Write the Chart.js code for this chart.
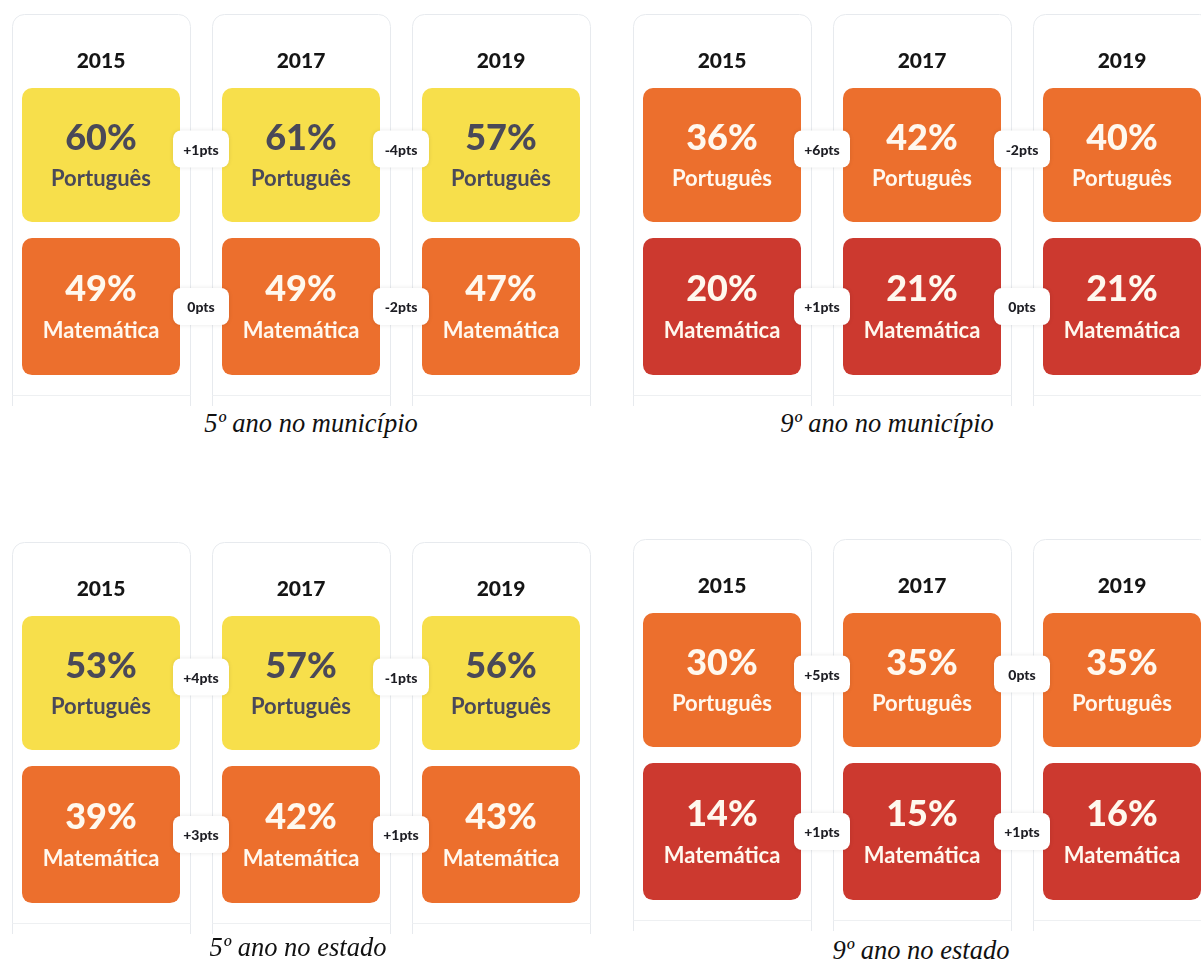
<!DOCTYPE html>
<html>
<head>
<meta charset="utf-8">
<script src="https://cdn.jsdelivr.net/npm/chart.js@4.4.1/dist/chart.umd.min.js"></script>
<style>
  body { margin: 0; background: #fff; width: 1201px; height: 960px; overflow: hidden; position: relative; }
  .panel { position: absolute; overflow: hidden; }
  .caption { position: absolute; font: italic 26.5px "Liberation Serif", "Times New Roman", serif; color: #111; white-space: nowrap; transform: translate(-50%, -50%); }
</style>
</head>
<body>
<div class="panel" style="left:0;top:0;width:602px;height:406px"><canvas id="c-5mun" width="602" height="406"></canvas></div>
<div class="panel" style="left:621px;top:0;width:580px;height:406px"><canvas id="c-9mun" width="602" height="406"></canvas></div>
<div class="panel" style="left:0;top:528px;width:602px;height:406px"><canvas id="c-5est" width="602" height="406"></canvas></div>
<div class="panel" style="left:621px;top:525px;width:580px;height:406px"><canvas id="c-9est" width="602" height="406"></canvas></div>

<div class="caption" style="left:311px;top:423px">5º ano no município</div>
<div class="caption" style="left:887px;top:423px">9º ano no município</div>
<div class="caption" style="left:298px;top:947px">5º ano no estado</div>
<div class="caption" style="left:921px;top:950px">9º ano no estado</div>

<script>
// --- data ---
const years = ['2015', '2017', '2019'];
const subjects = ['Português', 'Matemática'];

const port5Mun = [60, 61, 57];
const mat5Mun = [49, 49, 47];
const port9Mun = [36, 42, 40];
const mat9Mun = [20, 21, 21];
const port5Est = [53, 57, 56];
const mat5Est = [39, 42, 43];
const port9Est = [30, 35, 35];
const mat9Est = [14, 15, 16];

const FONT = 'Lato, "Open Sans", sans-serif';

// tile colour by level
function tileColor(v) {
  if (v >= 50) return '#F7DF4B';
  if (v >= 25) return '#EC6F2D';
  return '#CC392F';
}
function inkColor(v) {
  return v >= 50 ? '#4A4958' : '#FFF8EE';
}

// rows on the y axis: Português in [1,2], Matemática in [0,1]
const rowSpan = [[1.053, 1.947], [0.033, 0.947]];
const badgeShift = [-6, 0];

function roundRect(ctx, x, y, w, h, r) {
  ctx.beginPath();
  ctx.moveTo(x + r, y);
  ctx.arcTo(x + w, y, x + w, y + h, r);
  ctx.arcTo(x + w, y + h, x, y + h, r);
  ctx.arcTo(x, y + h, x, y, r);
  ctx.arcTo(x, y, x + w, y, r);
  ctx.closePath();
}

// card outlines behind each year column
const cardsPlugin = {
  id: 'cards',
  beforeDraw(chart) {
    const { ctx, scales: { x, y } } = chart;
    const step = x.getPixelForValue(1) - x.getPixelForValue(0);
    const half = step * 0.445;
    const top = Math.round(y.getPixelForValue(2) - 66) + 0.5;
    const bottom = chart.height;
    const lineY = Math.round(y.getPixelForValue(-0.1)) + 0.5;
    ctx.save();
    ctx.lineWidth = 1;
    years.forEach((_, i) => {
      const cx = x.getPixelForValue(i);
      const l = Math.round(cx - half) + 0.5;
      const r = Math.round(cx + half) + 0.5;
      const rad = 12;
      ctx.strokeStyle = '#E7EAEE';
      ctx.beginPath();
      ctx.moveTo(l, bottom);
      ctx.lineTo(l, top + rad);
      ctx.arcTo(l, top, l + rad, top, rad);
      ctx.lineTo(r - rad, top);
      ctx.arcTo(r, top, r, top + rad, rad);
      ctx.lineTo(r, bottom);
      ctx.stroke();
      ctx.strokeStyle = '#EEF0F2';
      ctx.beginPath();
      ctx.moveTo(l, lineY);
      ctx.lineTo(r, lineY);
      ctx.stroke();
    });
    ctx.restore();
  }
};

// percent + subject inside tiles, change badges between tiles
const labelsPlugin = {
  id: 'tileLabels',
  afterDatasetsDraw(chart) {
    const { ctx, scales: { x } } = chart;
    ctx.save();
    ctx.textAlign = 'center';
    ctx.textBaseline = 'middle';
    chart.data.datasets.forEach((ds, d) => {
      const meta = chart.getDatasetMeta(d);
      meta.data.forEach((bar, i) => {
        const v = ds.values[i];
        const cy = (bar.y + bar.base) / 2;
        ctx.fillStyle = inkColor(v);
        ctx.font = '900 36px ' + FONT;
        ctx.fillText(v + '%', bar.x, cy - 17);
        ctx.font = 'bold 22px ' + FONT;
        ctx.fillText(ds.label, bar.x, cy + 24);
      });
      // badges
      for (let i = 0; i < ds.values.length - 1; i++) {
        const diff = ds.values[i + 1] - ds.values[i];
        const txt = (diff > 0 ? '+' : '') + diff + 'pts';
        const bar = meta.data[i];
        const bx = x.getPixelForValue(i + 0.5);
        const by = (bar.y + bar.base) / 2 + badgeShift[d];
        const w = 56, h = 37;
        ctx.save();
        ctx.shadowColor = 'rgba(0,0,0,0.10)';
        ctx.shadowBlur = 4;
        ctx.fillStyle = '#FFFFFF';
        roundRect(ctx, bx - w / 2, by - h / 2, w, h, 8);
        ctx.fill();
        ctx.restore();
        ctx.fillStyle = '#1E1E24';
        ctx.font = '900 14px ' + FONT;
        ctx.fillText(txt, bx, by + 1);
      }
    });
    ctx.restore();
  }
};

function makePanel(id, port, mat) {
  const series = [port, mat];
  new Chart(document.getElementById(id), {
    type: 'bar',
    data: {
      labels: years,
      datasets: series.map((vals, r) => ({
        label: subjects[r],
        values: vals,
        data: vals.map(() => rowSpan[r]),
        backgroundColor: vals.map(tileColor),
        borderRadius: 10,
        borderSkipped: false,
        grouped: false,
        barPercentage: 0.79,
        categoryPercentage: 1
      }))
    },
    options: {
      responsive: false,
      animation: false,
      layout: { padding: { left: 1, right: 1, top: 0, bottom: 0 } },
      plugins: { legend: { display: false }, tooltip: { enabled: false } },
      scales: {
        x: {
          position: 'top',
          grid: { display: false, drawTicks: false },
          border: { display: false },
          ticks: { color: '#151515', padding: 6, font: { family: FONT, weight: '900', size: 21 } },
          afterFit(scale) { scale.height = 80; }
        },
        y: { display: false, min: -0.1733, max: 2 }
      }
    },
    plugins: [cardsPlugin, labelsPlugin]
  });
}

makePanel('c-5mun', port5Mun, mat5Mun);
makePanel('c-9mun', port9Mun, mat9Mun);
makePanel('c-5est', port5Est, mat5Est);
makePanel('c-9est', port9Est, mat9Est);
</script>
</body>
</html>
